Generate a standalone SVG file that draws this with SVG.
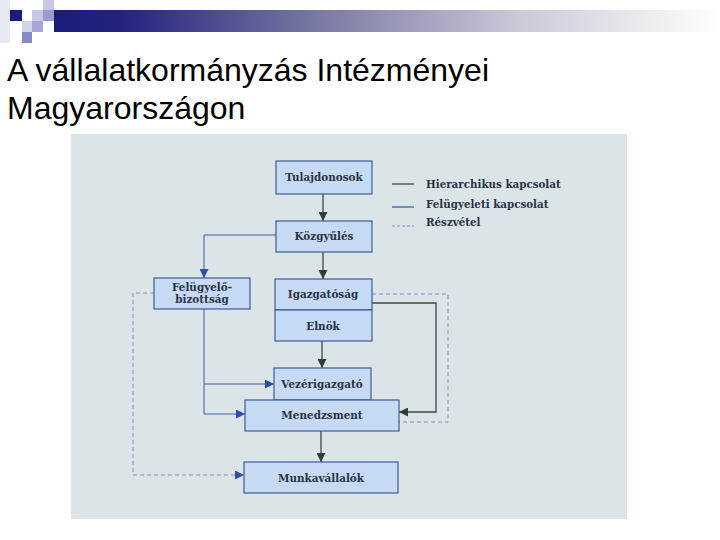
<svg xmlns="http://www.w3.org/2000/svg" width="720" height="540" viewBox="0 0 720 540">
<defs>
<linearGradient id="bar" x1="0" y1="0" x2="1" y2="0">
<stop offset="0" stop-color="#1c1c7c"/>
<stop offset="0.1" stop-color="#22227e"/>
<stop offset="0.4" stop-color="#7a7aa4"/>
<stop offset="0.7" stop-color="#cacad8"/>
<stop offset="1" stop-color="#ffffff"/>
</linearGradient>
<marker id="ah" viewBox="0 0 10 10" refX="10" refY="5" markerWidth="9" markerHeight="9" markerUnits="userSpaceOnUse" orient="auto">
<path d="M0,0 L10,5 L0,10 z" fill="#2f3d38"/>
</marker>
<marker id="ab" viewBox="0 0 10 10" refX="10" refY="5" markerWidth="9" markerHeight="9" markerUnits="userSpaceOnUse" orient="auto">
<path d="M0,0 L10,5 L0,10 z" fill="#2d4fa8"/>
</marker>
</defs>
<style>
.title{font-family:"Liberation Sans",Arial,sans-serif;font-size:32px;fill:#000}
.box{fill:#c7daf3;stroke:#3d5c98;stroke-width:1.2}
.lbl{font-family:"DejaVu Serif","Liberation Serif",serif;font-weight:bold;font-size:10.4px;fill:#2a3246;text-anchor:middle}
.leg{font-family:"DejaVu Serif","Liberation Serif",serif;font-weight:bold;font-size:10.3px;fill:#2a3246}
.hier{fill:none;stroke:#3a4842;stroke-width:1.3}
.sup{fill:none;stroke:#3a5ca6;stroke-width:1}
.dash{fill:none;stroke:#7f8fbf;stroke-width:1;stroke-dasharray:4,3}
</style>
<rect width="720" height="540" fill="#ffffff"/>
<g id="header">
<rect x="0" y="0" width="10" height="43" fill="#e8e8f3"/>
<rect x="54" y="10" width="666" height="22" fill="url(#bar)"/>
<rect x="10" y="10" width="12" height="11" fill="#1a1a80"/>
<rect x="22" y="21" width="10" height="11" fill="#d2d2ea"/>
<rect x="32" y="10" width="11" height="11" fill="#c8c8e4"/>
<rect x="43" y="0" width="11" height="10" fill="#c8c8e4"/>
<rect x="43" y="10" width="11" height="11" fill="#9a9ad0"/>
<rect x="32" y="21" width="11" height="11" fill="#a4a4d6"/>
<rect x="22" y="32" width="10" height="11" fill="#8888c4"/>
</g>
<text class="title" x="7" y="81">A vállalatkormányzás Intézményei</text>
<text class="title" x="7" y="119">Magyarországon</text>
<rect x="71" y="134" width="556" height="385" fill="#dbe4e7"/>
<g id="legend">
<line x1="392" y1="184" x2="414" y2="184" stroke="#3a4842" stroke-width="1.3"/>
<line x1="392" y1="207" x2="414" y2="207" stroke="#3a5ca6" stroke-width="1.3"/>
<line x1="392" y1="226" x2="414" y2="226" stroke="#7f8fbf" stroke-width="1" stroke-dasharray="3,2"/>
<text class="leg" x="426" y="188">Hierarchikus kapcsolat</text>
<text class="leg" x="426" y="208">Felügyeleti kapcsolat</text>
<text class="leg" x="426" y="226">Részvétel</text>
</g>
<g id="connectors">
<line class="hier" x1="323" y1="194" x2="323" y2="221" marker-end="url(#ah)"/>
<line class="hier" x1="323" y1="252" x2="323" y2="279" marker-end="url(#ah)"/>
<line class="hier" x1="322" y1="341" x2="322" y2="368" marker-end="url(#ah)"/>
<line class="hier" x1="321" y1="431" x2="321" y2="462" marker-end="url(#ah)"/>
<polyline class="hier" points="372,303 436,303 436,412 399,412" marker-end="url(#ah)"/>
<polyline class="sup" points="276,235 204,235 204,278" marker-end="url(#ab)"/>
<polyline class="sup" points="204,309 204,414 245,414" marker-end="url(#ab)"/>
<line class="sup" x1="204" y1="384" x2="274" y2="384" marker-end="url(#ab)"/>
<polyline class="dash" points="372,294 448,294 448,422 399,422"/>
<polyline class="dash" points="154,293 133,293 133,475 244,475" marker-end="url(#ab)"/>
</g>
<g id="tulajdonosok">
<rect class="box" x="276" y="161" width="96" height="33"/>
<text class="lbl" x="324" y="181">Tulajdonosok</text>
</g>
<g id="kozgyules">
<rect class="box" x="276" y="221" width="96" height="31"/>
<text class="lbl" x="324" y="240">Közgyűlés</text>
</g>
<g id="felugyelobizottsag">
<rect class="box" x="154" y="278" width="96" height="31"/>
<text class="lbl" x="202" y="291">Felügyelő-</text>
<text class="lbl" x="202" y="303">bizottság</text>
</g>
<g id="igazgatosag">
<rect class="box" x="275" y="279" width="97" height="31"/>
<text class="lbl" x="323" y="298">Igazgatóság</text>
</g>
<g id="elnok">
<rect class="box" x="275" y="310" width="97" height="31"/>
<text class="lbl" x="323" y="330">Elnök</text>
</g>
<g id="vezerigazgato">
<rect class="box" x="274" y="368" width="97" height="32"/>
<text class="lbl" x="322" y="388">Vezérigazgató</text>
</g>
<g id="menedzsment">
<rect class="box" x="245" y="400" width="154" height="31"/>
<text class="lbl" x="322" y="419">Menedzsment</text>
</g>
<g id="munkavallalok">
<rect class="box" x="244" y="462" width="154" height="31"/>
<text class="lbl" x="321" y="482">Munkavállalók</text>
</g>
</svg>
